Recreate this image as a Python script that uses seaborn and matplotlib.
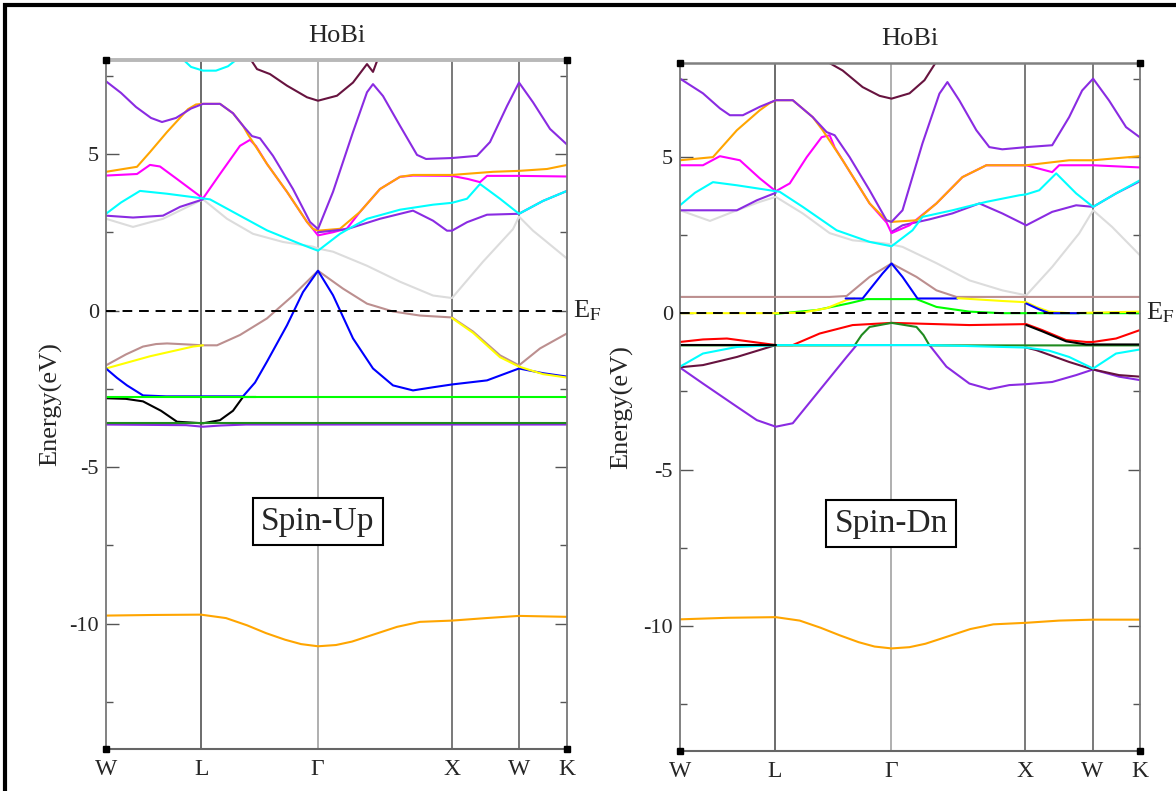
import matplotlib
matplotlib.use("Agg")
import matplotlib.pyplot as plt
from matplotlib.patches import Rectangle
import seaborn as sns
import pandas as pd

# ---------------- data ----------------
K_TICKS = [0, 95.1, 211.6, 346.1, 413.4, 461.0]
K_LABELS = ["W", "L", "\u0393", "X", "W", "K"]
Y_MAJOR = [-10, -5, 0, 5]
Y_MINOR = [-12.5, -7.5, -2.5, 2.5, 7.5]
TITLE = "HoBi"

# ---- Spin-Up bands: (k, E) pairs ----
UP_MAROON = [(144, 8.05), (151, 7.71), (164, 7.55), (181, 7.18), (201, 6.81), (212, 6.70),
             (231, 6.86), (247, 7.28), (261, 7.87), (267, 7.62), (272, 8.05)]
UP_CYAN_TOP = [(76, 8.05), (85, 7.78), (97, 7.66), (110, 7.66), (122, 7.8), (132, 8.05)]
UP_PURPLE_TOP = [(0, 7.32), (15, 6.95), (30, 6.5), (45, 6.15), (56, 6.02), (70, 6.15), (85, 6.45),
                 (97, 6.6), (114, 6.6), (127, 6.3), (137, 5.9), (146, 5.57), (154, 5.5), (167, 4.94),
                 (187, 3.88), (204, 2.83), (212, 2.6), (227, 3.79), (247, 5.70), (261, 6.97), (267, 7.23),
                 (277, 6.85), (294, 5.9), (311, 4.97), (320, 4.84), (346, 4.87), (371, 4.94), (384, 5.38),
                 (401, 6.53), (413, 7.28), (427, 6.65), (444, 5.80), (461, 5.30)]
UP_ORANGE_TOP = [(0, 4.43), (31, 4.59), (44, 5.06), (61, 5.70), (82, 6.43), (90, 6.58), (97, 6.6),
                 (114, 6.6), (127, 6.3), (137, 5.9), (142, 5.62), (161, 4.68), (181, 3.79), (201, 2.83),
                 (207, 2.61), (212, 2.55), (234, 2.61), (254, 3.15), (274, 3.88), (294, 4.27), (307, 4.33),
                 (346, 4.33), (387, 4.43), (413, 4.46), (441, 4.52), (461, 4.65)]
UP_MAGENTA = [(0, 4.31), (31, 4.36), (44, 4.65), (54, 4.6), (71, 4.2), (97, 3.58), (114, 4.36),
              (134, 5.26), (144, 5.45), (150, 5.25), (161, 4.68), (181, 3.79), (201, 2.83), (207, 2.6),
              (212, 2.40), (227, 2.5), (241, 2.62), (254, 3.15), (274, 3.88), (294, 4.27), (307, 4.31),
              (346, 4.3), (362, 4.2), (374, 4.1), (381, 4.3), (413, 4.3), (461, 4.28)]
UP_CYAN = [(0, 3.09), (15, 3.45), (34, 3.82), (61, 3.73), (97, 3.58), (104, 3.55), (127, 3.15),
           (161, 2.56), (194, 2.13), (212, 1.91), (234, 2.45), (241, 2.58), (261, 2.93), (294, 3.22),
           (327, 3.38), (346, 3.44), (361, 3.57), (374, 4.04), (394, 3.57), (413, 3.09), (437, 3.5),
           (461, 3.82)]
UP_PURPLE_LOW_A = [(0, 3.03), (27, 2.97), (57, 3.03), (74, 3.31), (97, 3.55)]
UP_PURPLE_LOW_B = [(212, 2.5), (241, 2.6), (274, 2.93), (307, 3.19), (327, 2.87), (341, 2.55),
                   (346, 2.55), (361, 2.82), (381, 3.06), (413, 3.09), (437, 3.5), (461, 3.82)]
UP_GRAY = [(0, 2.93), (27, 2.67), (57, 2.93), (97, 3.55), (121, 2.93), (147, 2.45), (177, 2.19),
           (207, 2.04), (212, 1.98), (227, 1.88), (261, 1.43), (294, 0.92), (327, 0.48), (346, 0.40),
           (377, 1.56), (407, 2.6), (413, 3.0), (427, 2.55), (437, 2.29), (461, 1.66)]
UP_BROWN = [(0, -1.75), (20, -1.4), (37, -1.15), (50, -1.07), (61, -1.05), (80, -1.08), (97, -1.11),
            (111, -1.11), (134, -0.78), (161, -0.25), (187, 0.48), (212, 1.27), (237, 0.70), (261, 0.22),
            (287, -0.03), (314, -0.16), (346, -0.22), (367, -0.67), (394, -1.43), (413, -1.75),
            (434, -1.21), (461, -0.73)]
UP_YELLOW_A = [(0, -1.85), (44, -1.46), (87, -1.15), (97, -1.11)]
UP_YELLOW_B = [(346, -0.24), (367, -0.71), (394, -1.49), (413, -1.79), (437, -2.03), (461, -2.14)]
UP_BLUE = [(0, -1.85), (11, -2.15), (21, -2.39), (37, -2.71), (60, -2.74), (137, -2.74), (149, -2.3),
           (161, -1.63), (181, -0.47), (197, 0.59), (212, 1.27), (227, 0.49), (247, -0.89), (267, -1.85),
           (287, -2.39), (307, -2.55), (327, -2.45), (346, -2.36), (381, -2.23), (413, -1.85),
           (437, -2.0), (461, -2.11)]
UP_BLACK = [(0, -2.8), (20, -2.82), (37, -2.9), (55, -3.2), (71, -3.55), (97, -3.6), (114, -3.5),
            (127, -3.2), (137, -2.76), (150, -2.76)]
UP_GREEN = [(0, -2.76), (461, -2.76)]
UP_PURPLE_BOT = [(0, -3.64), (80, -3.66), (97, -3.71), (115, -3.67), (140, -3.64), (461, -3.64)]
UP_DKGREEN = [(0, -3.6), (461, -3.6)]
UP_ORANGE_BOT = [(0, -9.74), (48, -9.72), (95, -9.71), (120, -9.82), (141, -10.05), (160, -10.3),
                 (179, -10.51), (195, -10.65), (212, -10.72), (230, -10.68), (246, -10.57), (270, -10.32),
                 (291, -10.1), (314, -9.94), (346, -9.9), (380, -9.82), (413, -9.75), (461, -9.78)]

# ---- Spin-Dn bands ----
DN_MAROON = [(147, 8.05), (163, 7.76), (183, 7.23), (200, 6.95), (212, 6.86), (230, 7.03), (245, 7.45),
             (257, 8.05)]
DN_PURPLE_TOP = [(0, 7.5), (23, 7.03), (40, 6.55), (50, 6.33), (63, 6.33), (80, 6.6), (96, 6.81),
                 (113, 6.81), (133, 6.27), (147, 5.79), (155, 5.69), (170, 4.99), (190, 3.93), (207, 2.97),
                 (212, 2.92), (223, 3.29), (243, 5.43), (260, 7.02), (268, 7.39), (280, 6.8), (297, 5.85),
                 (310, 5.31), (323, 5.24), (347, 5.31), (373, 5.37), (390, 6.27), (403, 7.12), (414, 7.5),
                 (430, 6.8), (447, 5.95), (461, 5.62)]
DN_ORANGE_TOP = [(0, 4.89), (33, 4.99), (57, 5.85), (80, 6.49), (90, 6.72), (96, 6.81), (113, 6.81),
                 (133, 6.27), (143, 5.85), (163, 4.89), (190, 3.51), (207, 2.97), (212, 2.92), (237, 2.97),
                 (257, 3.51), (283, 4.35), (307, 4.73), (347, 4.73), (390, 4.89), (414, 4.89), (461, 5.02)]
DN_MAGENTA = [(0, 4.73), (23, 4.73), (40, 5.02), (60, 4.89), (80, 4.31), (96, 3.9), (110, 4.15),
              (127, 4.99), (142, 5.63), (150, 5.69), (155, 5.3), (163, 4.89), (190, 3.51), (207, 2.9),
              (212, 2.56), (230, 2.81), (257, 3.51), (283, 4.35), (307, 4.73), (347, 4.73), (373, 4.51),
              (380, 4.73), (414, 4.73), (461, 4.66)]
DN_CYAN = [(0, 3.45), (15, 3.85), (33, 4.19), (57, 4.09), (90, 3.93), (100, 3.88), (123, 3.40),
           (157, 2.65), (190, 2.28), (212, 2.14), (233, 2.65), (243, 3.08), (273, 3.29), (307, 3.56),
           (340, 3.77), (347, 3.80), (360, 3.93), (377, 4.47), (397, 3.83), (414, 3.40), (437, 3.83),
           (461, 4.25)]
DN_PURPLE_LOW_A = [(0, 3.29), (57, 3.29), (77, 3.61), (96, 3.85)]
DN_PURPLE_LOW_B = [(212, 2.6), (223, 2.81), (250, 3.0), (273, 3.19), (300, 3.51), (323, 3.19),
                   (347, 2.81), (373, 3.24), (397, 3.45), (414, 3.40), (437, 3.83), (461, 4.22)]
DN_GRAY = [(0, 3.29), (30, 2.95), (57, 3.29), (80, 3.56), (96, 3.72), (123, 3.19), (150, 2.56),
           (173, 2.33), (203, 2.24), (212, 2.2), (223, 2.12), (257, 1.6), (290, 1.05), (323, 0.73),
           (347, 0.57), (373, 1.48), (400, 2.55), (414, 3.29), (433, 2.76), (461, 1.85)]
DN_BROWN = [(0, 0.52), (150, 0.52), (167, 0.55), (190, 1.16), (212, 1.59), (237, 1.16), (257, 0.73),
            (277, 0.52), (461, 0.52)]
DN_GREEN = [(96, -0.02), (137, 0.1), (170, 0.32), (187, 0.45), (237, 0.45), (257, 0.2),
            (290, 0.05), (323, 0.0), (461, 0.0)]
DN_YELLOW_A = [(0, 0.0), (96, 0.0), (123, 0.02), (147, 0.16), (167, 0.42), (175, 0.47)]
DN_YELLOW_B = [(278, 0.48), (323, 0.39), (347, 0.35), (357, 0.2), (370, 0.05), (390, 0.0), (461, 0.05)]
DN_BLUE_A = [(166, 0.47), (183, 0.47), (203, 1.27), (212, 1.59), (223, 1.16), (238, 0.47), (278, 0.47)]
DN_BLUE_B = [(347, 0.31), (360, 0.12), (370, 0.0), (400, 0.0)]
DN_RED = [(0, -0.92), (23, -0.84), (47, -0.81), (73, -0.92), (96, -1.02), (113, -1.02), (140, -0.65),
          (173, -0.38), (212, -0.31), (257, -0.35), (290, -0.38), (347, -0.35), (363, -0.54), (387, -0.86),
          (407, -0.92), (414, -0.92), (437, -0.81), (461, -0.54)]
DN_PURPLE_BOT = [(0, -1.74), (23, -2.25), (57, -2.99), (77, -3.42), (96, -3.63), (113, -3.52),
                 (140, -2.46), (167, -1.40), (177, -1.02), (250, -1.02), (267, -1.71), (290, -2.25),
                 (310, -2.43), (330, -2.30), (347, -2.27), (373, -2.20), (397, -1.98), (414, -1.8),
                 (440, -2.03), (461, -2.14)]
DN_MAROON_LOW_A = [(0, -1.73), (23, -1.66), (57, -1.40), (96, -1.02)]
DN_MAROON_LOW_B = [(347, -1.1), (357, -1.18), (390, -1.56), (414, -1.8), (440, -1.98), (461, -2.03)]
DN_DKGREEN = [(0, -1.03), (175, -1.03), (182, -0.7), (190, -0.44), (212, -0.31), (237, -0.44),
              (244, -0.7), (250, -1.03), (461, -1.03)]
DN_CYAN_LOW = [(0, -1.71), (23, -1.29), (57, -1.08), (96, -1.02), (250, -1.02), (300, -1.06),
               (347, -1.1), (370, -1.2), (390, -1.40), (414, -1.77), (437, -1.29), (461, -1.16)]
DN_BLACK_A = [(0, -1.02), (96, -1.02)]
DN_BLACK_B = [(347, -0.38), (363, -0.58), (387, -0.9), (407, -1.0), (461, -1.0)]
DN_ORANGE_BOT = [(0, -9.79), (48, -9.74), (96, -9.72), (120, -9.83), (141, -10.06), (160, -10.3),
                 (179, -10.52), (195, -10.66), (212, -10.72), (230, -10.68), (246, -10.57), (270, -10.32),
                 (291, -10.1), (314, -9.95), (347, -9.9), (380, -9.83), (414, -9.8), (461, -9.8)]

# ---------------- style ----------------
C = dict(purple="#8a2be2", maroon="#67133f", orange="#ffa500", magenta="#ff00ff", cyan="#00ffff",
         gray="#dcdcdc", brown="#bc8f8f", yellow="#ffff00", blue="#0000ff", green="#00ff00",
         dkgreen="#1f8a1f", black="#000000", red="#ff0000")

UP_DRAW = [(UP_GRAY, "gray"), (UP_CYAN_TOP, "cyan"), (UP_MAROON, "maroon"), (UP_MAGENTA, "magenta"),
           (UP_ORANGE_TOP, "orange"), (UP_PURPLE_LOW_A, "purple"), (UP_PURPLE_LOW_B, "purple"),
           (UP_CYAN, "cyan"), (UP_PURPLE_TOP, "purple"), (UP_BROWN, "brown"), (UP_YELLOW_A, "yellow"),
           (UP_BLUE, "blue"), (UP_YELLOW_B, "yellow"), (UP_BLACK, "black"), (UP_GREEN, "green"),
           (UP_PURPLE_BOT, "purple"), (UP_DKGREEN, "dkgreen"), (UP_ORANGE_BOT, "orange")]
DN_DRAW = [(DN_GRAY, "gray"), (DN_PURPLE_LOW_A, "purple"), (DN_PURPLE_LOW_B, "purple"),
           (DN_MAGENTA, "magenta"), (DN_ORANGE_TOP, "orange"), (DN_CYAN, "cyan"), (DN_PURPLE_TOP, "purple"),
           (DN_MAROON, "maroon"), (DN_BROWN, "brown"), (DN_GREEN, "green"), (DN_YELLOW_A, "yellow"),
           (DN_BLUE_A, "blue"), (DN_YELLOW_B, "yellow"), (DN_BLUE_B, "blue"), (DN_RED, "red"),
           (DN_PURPLE_BOT, "purple"), (DN_MAROON_LOW_A, "maroon"), (DN_MAROON_LOW_B, "maroon"),
           (DN_DKGREEN, "dkgreen"), (DN_CYAN_LOW, "cyan"), (DN_BLACK_A, "black"), (DN_BLACK_B, "black"),
           (DN_ORANGE_BOT, "orange")]

sns.set_theme(style="white")
plt.rcParams["font.family"] = ["Liberation Serif", "DejaVu Serif"]
plt.rcParams["mathtext.fontset"] = "stix"

fig = plt.figure(figsize=(11.76, 7.91), dpi=100)
fig.patch.set_facecolor("white")

W, H = 1176.0, 791.0
panels = [
    dict(rect=(106, 60, 567, 749), draw=UP_DRAW, box="Spin-Up", ylab_x=-0.121,
         top=("#b8b8b8", 2.8)),
    dict(rect=(680, 63, 1140, 751), draw=DN_DRAW, box="Spin-Dn", ylab_x=-0.126,
         top=("#808080", 1.8)),
]

for p in panels:
    x0, y0, x1, y1 = p["rect"]
    ax = fig.add_axes([x0 / W, 1 - y1 / H, (x1 - x0) / W, (y1 - y0) / H])
    ax.set_facecolor("white")

    # high-symmetry vertical lines
    for kk, col in zip(K_TICKS[1:-1], ["#444444", "#9a9a9a", "#555555", "#555555"]):
        ax.axvline(kk, color=col, lw=1.1, zorder=1)

    for band, cname in p["draw"]:
        df = pd.DataFrame(band, columns=["k", "E"])
        sns.lineplot(data=df, x="k", y="E", ax=ax, color=C[cname], lw=1.5, sort=False,
                     estimator=None, legend=False, zorder=2)

    ax.axhline(0, color="black", lw=1.4, ls=(0, (5, 3.5)), zorder=6)

    ax.set_xlim(K_TICKS[0], K_TICKS[-1])
    ax.set_ylim(-14, 8)
    ax.set_xticks(K_TICKS)
    ax.set_xticklabels(K_LABELS, fontsize=17)
    ax.tick_params(axis="x", length=0, pad=7)
    ax.set_yticks(Y_MAJOR)
    ax.set_yticklabels([str(v) for v in Y_MAJOR], fontsize=16)
    ax.set_yticks(Y_MINOR, minor=True)
    ax.tick_params(axis="y", which="both", direction="in", left=True, right=True, color="#555555",
                   width=1.0, pad=5)
    ax.tick_params(axis="y", which="major", length=9)
    ax.tick_params(axis="y", which="minor", length=5)
    ax.set_xlabel("")
    ax.set_ylabel("Energy(eV)", fontsize=19)
    ax.yaxis.label.set_va("center")
    ax.yaxis.set_label_coords(p["ylab_x"], 0.5)
    ax.set_title(TITLE, fontsize=19, pad=13)

    for side in ["left", "right"]:
        ax.spines[side].set_color("#777777")
        ax.spines[side].set_linewidth(1.3)
    ax.spines["top"].set_color(p["top"][0])
    ax.spines["top"].set_linewidth(p["top"][1])
    ax.spines["bottom"].set_color("#666666")
    ax.spines["bottom"].set_linewidth(1.5)
    for yy in (0, 1):
        ax.plot([0, 1], [yy, yy], transform=ax.transAxes, ls="none", marker="s", ms=5,
                color="black", clip_on=False, zorder=7)

    ax.text(1.012, 0, r"E$_{\rm F}$", transform=ax.get_yaxis_transform(), fontsize=19,
            ha="left", va="center")
    ax.text(K_TICKS[2], -6.73, p["box"], fontsize=24, ha="center", va="center", zorder=8,
            bbox=dict(boxstyle="square,pad=0.25", fc="white", ec="black", lw=1.5))

fig.patches.append(Rectangle((4.5 / W, -0.05), 1.1, 1.05 - 5.5 / H, transform=fig.transFigure,
                             fill=False, ec="black", lw=3))

fig.savefig("out.png", dpi=100)
